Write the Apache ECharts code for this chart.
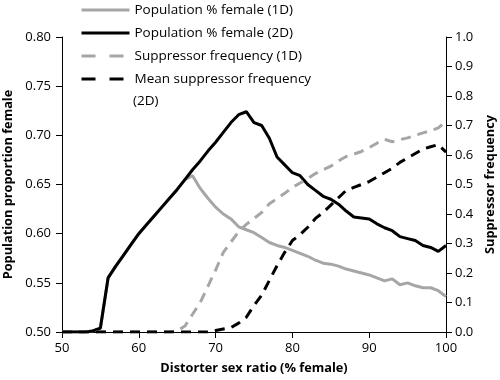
<!DOCTYPE html>
<html>
<head>
<meta charset="utf-8">
<script src="https://cdn.jsdelivr.net/npm/echarts@6/dist/echarts.min.js"></script>
<style>
html,body{margin:0;padding:0;background:#fff;}
#chart{width:500px;height:380px;}
</style>
</head>
<body>
<div id="chart"></div>
<script>
// Distorter sex ratio (% female)
const xValues = [50,51,52,53,54,55,56,57,58,59,60,61,62,63,64,65,66,67,68,69,70,71,72,73,74,75,76,77,78,79,80,81,82,83,84,85,86,87,88,89,90,91,92,93,94,95,96,97,98,99,100];

// Population proportion female (left axis)
const popFemale1D = [0.500,0.500,0.500,0.500,0.501,0.504,0.555,0.567,0.578,0.589,0.600,0.609,0.618,0.627,0.636,0.645,0.655,0.659,0.646,0.636,0.627,0.620,0.615,0.607,0.604,0.601,0.596,0.591,0.588,0.586,0.583,0.580,0.577,0.573,0.570,0.569,0.567,0.564,0.562,0.560,0.558,0.555,0.552,0.554,0.548,0.550,0.547,0.545,0.545,0.542,0.536];
const popFemale2D = [0.500,0.500,0.500,0.500,0.501,0.504,0.555,0.567,0.578,0.589,0.600,0.609,0.618,0.627,0.636,0.645,0.655,0.665,0.674,0.684,0.693,0.703,0.713,0.721,0.724,0.713,0.710,0.697,0.678,0.670,0.662,0.659,0.650,0.644,0.638,0.635,0.630,0.623,0.617,0.616,0.615,0.610,0.606,0.603,0.597,0.595,0.593,0.588,0.586,0.582,0.588];

// Suppressor frequency (right axis)
const suppFreq1D = [0,0,0,0,0,0,0,0,0,0,0,0,0,0,0,0.003,0.02,0.06,0.10,0.155,0.21,0.27,0.305,0.34,0.365,0.385,0.405,0.435,0.452,0.47,0.49,0.505,0.52,0.537,0.55,0.562,0.58,0.595,0.603,0.612,0.625,0.64,0.653,0.645,0.652,0.658,0.667,0.675,0.682,0.692,0.714];
const meanSuppFreq2D = [0,0,0,0,0,0,0,0,0,0,0,0,0,0,0,0,0,0,0,0,0.005,0.01,0.015,0.03,0.05,0.09,0.125,0.175,0.225,0.27,0.31,0.33,0.355,0.385,0.405,0.43,0.455,0.48,0.49,0.50,0.51,0.525,0.54,0.555,0.575,0.59,0.605,0.62,0.628,0.635,0.61];

const seriesNames = ['Population % female (1D)','Population % female (2D)','Suppressor frequency (1D)','Mean suppressor frequency (2D)'];

function pairs(ys){ return xValues.map((x,i)=>[x, ys[i]]); }

const FONT = 'Open Sans';
const GRAY = '#a6a6a6';
const chart = echarts.init(document.getElementById('chart'), null, {renderer:'canvas'});
const axisLine = {show:true, lineStyle:{color:'#000', width:1}};
const axisTick = {show:true, inside:false, length:6, lineStyle:{color:'#000', width:1}};
const titleStyle = {fontFamily:FONT, fontSize:12.75, fontWeight:'bold', color:'#000'};

chart.setOption({
  animation:false,
  backgroundColor:'#fff',
  textStyle:{fontFamily:FONT},
  grid:{left:62, right:54, top:37, bottom:48, containLabel:false, outerBoundsMode:'none'},
  legend:{
    orient:'vertical', left:80, top:2, padding:0,
    itemWidth:48, itemHeight:14, itemGap:7,
    itemStyle:{opacity:0},
    textStyle:{fontFamily:FONT, fontSize:13.5, color:'#000', lineHeight:16},
    formatter:function(n){ return n === seriesNames[3] ? 'Mean suppressor frequency' : n; },
    data:[
      {name:seriesNames[0], lineStyle:{width:3}},
      {name:seriesNames[1], lineStyle:{width:3}},
      {name:seriesNames[2], lineStyle:{width:3, type:[14,14]}},
      {name:seriesNames[3], lineStyle:{width:3, type:[14,14]}}
    ]
  },
  graphic:[{type:'text', left:133, top:94, style:{text:'(2D)', fontFamily:FONT, fontSize:13.5, fill:'#000'}}],
  xAxis:{
    type:'value', min:50, max:100, interval:10,
    name:'Distorter sex ratio (% female)', nameLocation:'middle', nameGap:30,
    nameTextStyle:titleStyle,
    axisLine:axisLine, axisTick:axisTick, splitLine:{show:false},
    axisLabel:{fontFamily:FONT, fontSize:13, color:'#000', margin:10}
  },
  yAxis:[{
    type:'value', min:0.5, max:0.8, interval:0.05, position:'left',
    name:'Population proportion female', nameLocation:'middle', nameGap:44, nameRotate:90,
    nameTextStyle:titleStyle,
    axisLine:axisLine, axisTick:axisTick, splitLine:{show:false},
    axisLabel:{fontFamily:FONT, fontSize:13, color:'#000', margin:11, formatter:v=>v.toFixed(2)}
  },{
    type:'value', min:0, max:1, interval:0.1, position:'right',
    name:'Suppressor frequency', nameLocation:'middle', nameGap:38, nameRotate:90,
    nameTextStyle:titleStyle,
    axisLine:axisLine, axisTick:axisTick, splitLine:{show:false},
    axisLabel:{fontFamily:FONT, fontSize:13, color:'#000', margin:9, formatter:v=>v.toFixed(1)}
  }],
  series:[
    {name:seriesNames[0], type:'line', yAxisIndex:0, data:pairs(popFemale1D), symbol:'none',
     lineStyle:{color:GRAY, width:3}, itemStyle:{color:GRAY}},
    {name:seriesNames[1], type:'line', yAxisIndex:0, data:pairs(popFemale2D), symbol:'none',
     lineStyle:{color:'#000', width:3}, itemStyle:{color:'#000'}},
    {name:seriesNames[2], type:'line', yAxisIndex:1, data:pairs(suppFreq1D), symbol:'none',
     lineStyle:{color:GRAY, width:3, type:[10,7]}, itemStyle:{color:GRAY}},
    {name:seriesNames[3], type:'line', yAxisIndex:1, data:pairs(meanSuppFreq2D), symbol:'none',
     lineStyle:{color:'#000', width:3, type:[10,7]}, itemStyle:{color:'#000'}}
  ]
});
</script>
</body>
</html>
